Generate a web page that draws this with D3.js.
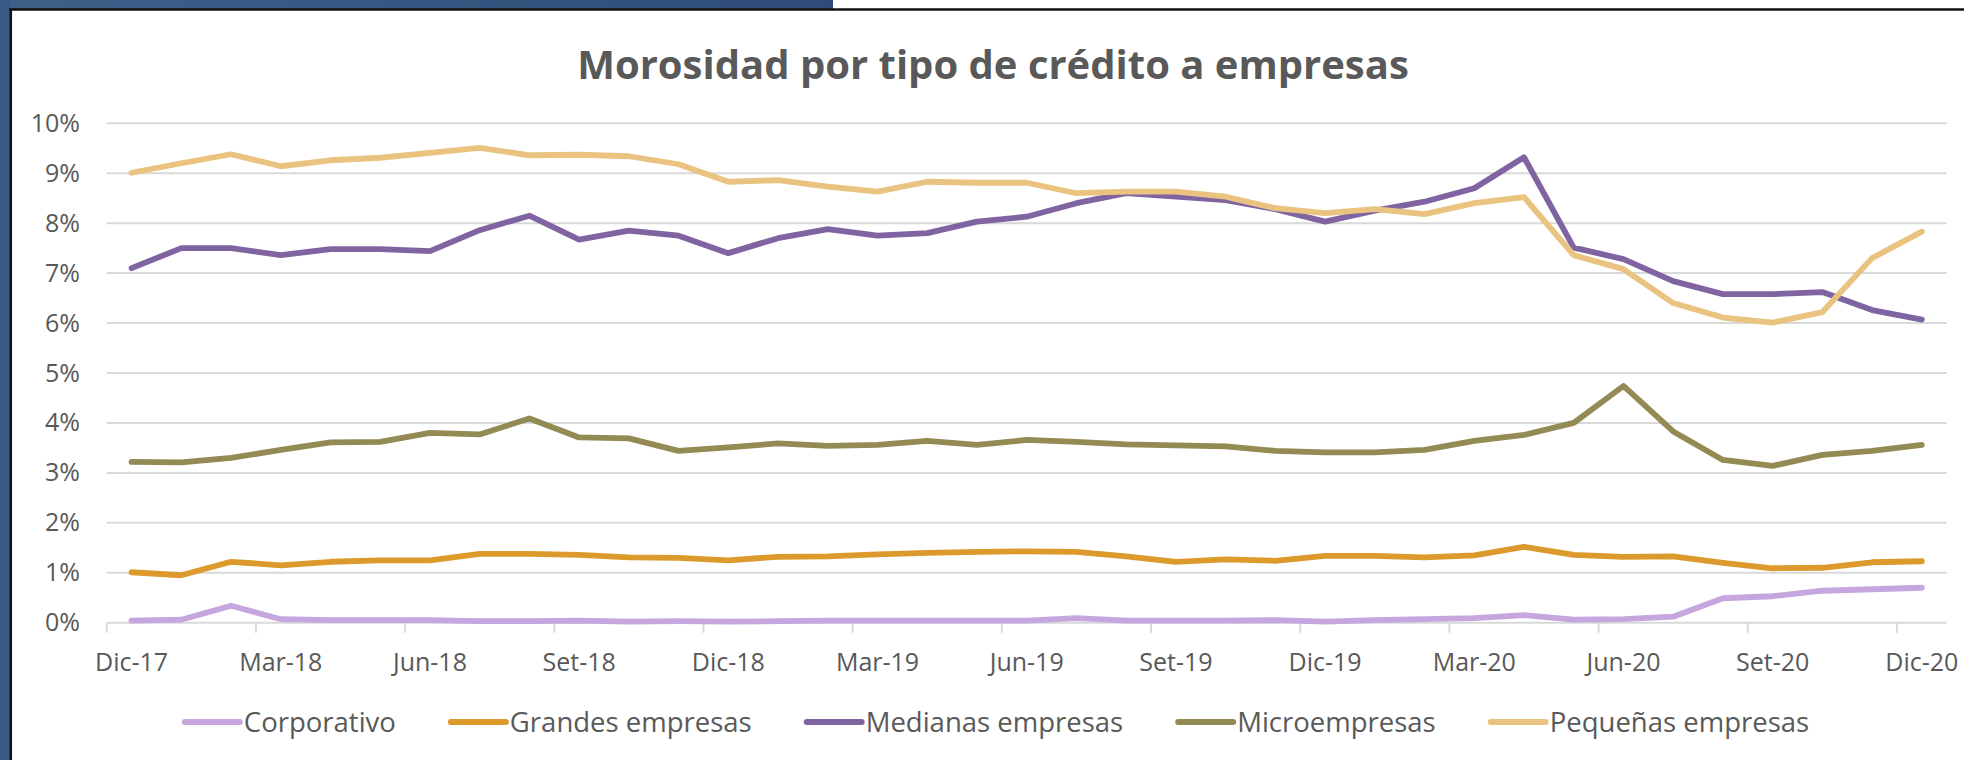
<!DOCTYPE html>
<html>
<head>
<meta charset="utf-8">
<script src="https://cdn.jsdelivr.net/npm/d3@7"></script>
<style>
  body { margin: 0; background: #fff; }
  text { font-family: "Open Sans", sans-serif; fill: #595959; }
</style>
</head>
<body>
<div id="chart"></div>
<script>
// Monthly categories, Dic-17 .. Dic-20
var months = ["Dic-17","Ene-18","Feb-18","Mar-18","Abr-18","May-18","Jun-18","Jul-18","Ago-18","Set-18","Oct-18","Nov-18",
  "Dic-18","Ene-19","Feb-19","Mar-19","Abr-19","May-19","Jun-19","Jul-19","Ago-19","Set-19","Oct-19","Nov-19",
  "Dic-19","Ene-20","Feb-20","Mar-20","Abr-20","May-20","Jun-20","Jul-20","Ago-20","Set-20","Oct-20","Nov-20","Dic-20"];

// values in %
var corporativo = [0.04,0.06,0.34,0.07,0.05,0.05,0.05,0.03,0.03,0.04,0.02,0.03,0.02,0.03,0.04,0.04,0.04,0.04,0.04,0.09,0.04,0.04,0.04,0.05,0.02,0.05,0.07,0.09,0.15,0.06,0.07,0.12,0.49,0.53,0.64,0.67,0.70];
var grandes = [1.01,0.95,1.22,1.15,1.22,1.25,1.25,1.38,1.38,1.36,1.31,1.30,1.25,1.32,1.33,1.37,1.40,1.42,1.43,1.42,1.33,1.22,1.27,1.24,1.34,1.34,1.31,1.35,1.52,1.36,1.32,1.33,1.20,1.09,1.10,1.21,1.23];
var medianas = [7.10,7.50,7.50,7.36,7.48,7.48,7.44,7.86,8.15,7.67,7.85,7.75,7.40,7.70,7.88,7.75,7.80,8.03,8.13,8.40,8.60,8.53,8.46,8.28,8.03,8.25,8.43,8.70,9.32,7.51,7.28,6.84,6.58,6.58,6.62,6.26,6.07];
var micro = [3.22,3.21,3.30,3.46,3.61,3.62,3.80,3.77,4.09,3.71,3.69,3.44,3.51,3.59,3.54,3.56,3.64,3.56,3.66,3.62,3.57,3.55,3.53,3.44,3.41,3.41,3.46,3.64,3.76,4.00,4.74,3.83,3.26,3.14,3.36,3.44,3.56];
var pequenas = [9.01,9.20,9.38,9.14,9.26,9.31,9.41,9.51,9.36,9.37,9.34,9.18,8.83,8.86,8.73,8.63,8.83,8.81,8.81,8.60,8.63,8.63,8.53,8.30,8.20,8.28,8.18,8.40,8.52,7.36,7.08,6.40,6.11,6.01,6.22,7.30,7.83];

var seriesNames = ["Corporativo", "Grandes empresas", "Medianas empresas", "Microempresas", "Pequeñas empresas"];
var seriesValues = [corporativo, grandes, medianas, micro, pequenas];
var seriesColors = ["#c5a6de", "#dd9a2c", "#8064a2", "#948a54", "#e9c37f"];
var yTicks = [0,1,2,3,4,5,6,7,8,9,10];
var xLabelMonths = months.filter(function(d, i) { return i % 3 === 0; });

var width = 1964, height = 760;
var svg = d3.select("#chart").append("svg")
    .attr("width", width)
    .attr("height", height);

// slide frame
var defs = svg.append("defs");
var grad = defs.append("linearGradient").attr("id", "band");
grad.append("stop").attr("offset", "0%").attr("stop-color", "#3d6089");
grad.append("stop").attr("offset", "100%").attr("stop-color", "#2e4c77");
svg.append("rect").attr("x", 0).attr("y", 0).attr("width", 833).attr("height", 9).attr("fill", "url(#band)");
svg.append("rect").attr("x", 0).attr("y", 0).attr("width", 10).attr("height", height).attr("fill", "#3a5b86");
svg.append("line").attr("x1", 9).attr("x2", width).attr("y1", 9.5).attr("y2", 9.5).attr("stroke", "#111").attr("stroke-width", 2.5);
svg.append("line").attr("x1", 10.8).attr("x2", 10.8).attr("y1", 9).attr("y2", height).attr("stroke", "#111").attr("stroke-width", 2.5);

// scales
var x = d3.scaleBand().domain(months).range([106.7, 1946.7]);
var y = d3.scaleLinear().domain([0, 10]).range([622.7, 123.3]);
var cx = function(m) { return x(m) + x.bandwidth() / 2; };

// title
svg.append("text")
    .attr("x", 993)
    .attr("y", 79)
    .attr("text-anchor", "middle")
    .style("font-size", "40px")
    .style("font-weight", "bold")
    .text("Morosidad por tipo de crédito a empresas");

// gridlines
svg.append("g")
    .selectAll("line")
    .data(yTicks.slice(1))
    .enter().append("line")
    .attr("x1", 106.7).attr("x2", 1946.7)
    .attr("y1", function(d) { return y(d); })
    .attr("y2", function(d) { return y(d); })
    .attr("stroke", "#d9d9d9")
    .attr("stroke-width", 2);

// y axis labels
var yAxis = svg.append("g")
    .attr("transform", "translate(80,0)")
    .call(d3.axisLeft(y).tickValues(yTicks).tickSize(0).tickPadding(0).tickFormat(function(d) { return d + "%"; }));
yAxis.select(".domain").remove();
yAxis.selectAll("text").style("font-size", "25px").attr("fill", "#595959").style("font-family", "'Open Sans', sans-serif");

// x axis line + tick marks at category boundaries
svg.append("line")
    .attr("x1", 106.7).attr("x2", 1946.7)
    .attr("y1", y(0)).attr("y2", y(0))
    .attr("stroke", "#d9d9d9").attr("stroke-width", 2);
svg.append("g")
    .selectAll("line")
    .data(xLabelMonths)
    .enter().append("line")
    .attr("x1", function(d) { return x(d); })
    .attr("x2", function(d) { return x(d); })
    .attr("y1", y(0)).attr("y2", y(0) + 10)
    .attr("stroke", "#d9d9d9").attr("stroke-width", 2);

var xAxis = svg.append("g")
    .attr("transform", "translate(0," + y(0) + ")")
    .call(d3.axisBottom(x).tickValues(xLabelMonths).tickSize(0).tickPadding(0));
xAxis.select(".domain").remove();
xAxis.selectAll("text")
    .attr("dy", null)
    .attr("y", 48)
    .style("font-size", "25px")
    .attr("fill", "#595959")
    .style("font-family", "'Open Sans', sans-serif");

// lines
var line = d3.line()
    .x(function(d, i) { return cx(months[i]); })
    .y(function(d) { return y(d); });

svg.append("g")
    .selectAll("path")
    .data(seriesValues)
    .enter().append("path")
    .attr("d", function(d) { return line(d); })
    .attr("fill", "none")
    .attr("stroke", function(d, i) { return seriesColors[i]; })
    .attr("stroke-width", 5.8)
    .attr("stroke-linejoin", "round")
    .attr("stroke-linecap", "round");

// legend
var legend = svg.append("g").attr("class", "legend");
var items = legend.selectAll("g")
    .data(seriesNames)
    .enter().append("g");
items.append("line")
    .attr("x1", 0).attr("x2", 55)
    .attr("y1", 722).attr("y2", 722)
    .attr("stroke", function(d, i) { return seriesColors[i]; })
    .attr("stroke-width", 6)
    .attr("stroke-linecap", "round");
items.append("text")
    .attr("x", 59)
    .attr("y", 732)
    .style("font-size", "27.5px")
    .text(function(d) { return d; });

var offset = 0, widths = [];
items.each(function() { widths.push(this.getBBox().width); });
var total = d3.sum(widths) + 55 * (widths.length - 1);
var start = 997 - total / 2;
items.attr("transform", function(d, i) {
    var t = "translate(" + (start + offset) + ",0)";
    offset += widths[i] + 55;
    return t;
});
</script>
</body>
</html>
